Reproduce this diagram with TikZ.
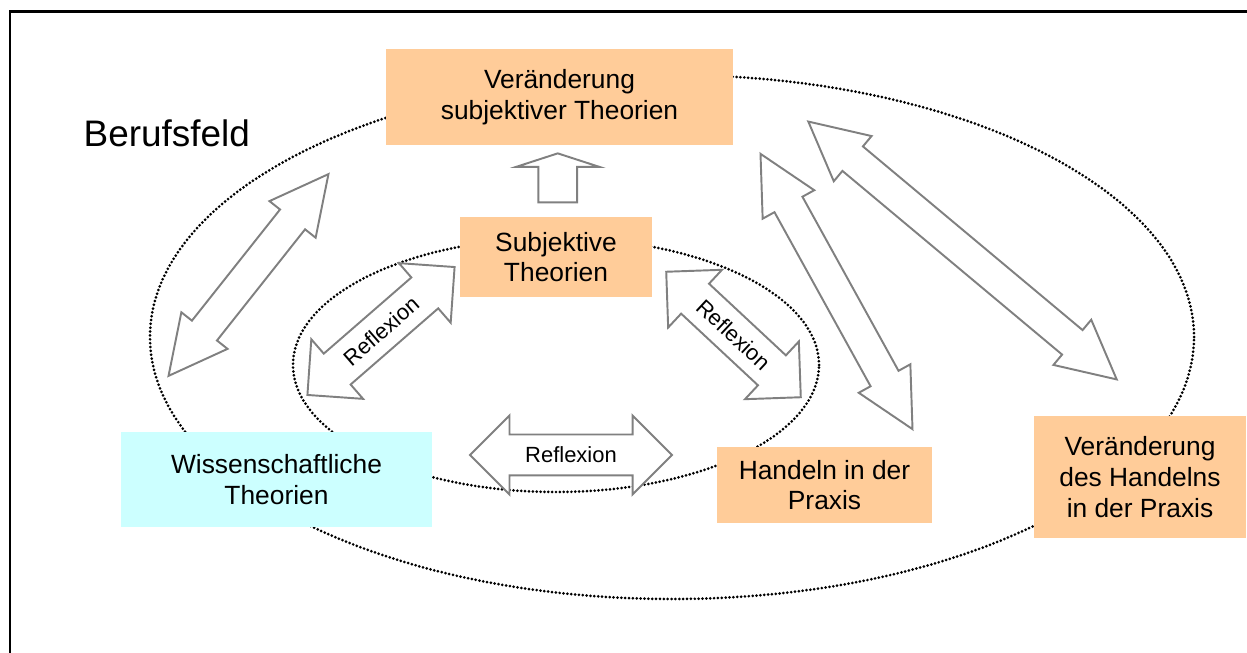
\documentclass[tikz,border=0pt]{standalone}
\usepackage{fontspec}
\setmainfont{Liberation Sans}
\usetikzlibrary{shapes.arrows,calc}

\definecolor{peach}{RGB}{255,204,153}
\definecolor{paleblue}{RGB}{204,255,255}
\definecolor{arrowgray}{RGB}{128,128,128}

\tikzset{
	box/.style={fill=peach, align=center, inner sep=0pt, font=\fontsize{15}{17.5}\selectfont},
	field/.style={black, line width=1.7pt, dash pattern=on 0pt off 2.2pt, line cap=round},
	blockarrow/.style={draw=arrowgray, fill=white, line width=1.1pt, inner xsep=0pt},
	bigarrow/.style={blockarrow, double arrow, inner ysep=0.3cm, double arrow head extend=0.27cm, double arrow tip angle=54},
	reflarrow/.style={blockarrow, double arrow, inner ysep=0pt, text height=0.548cm, text depth=0.232cm, double arrow head extend=0.38cm, double arrow tip angle=90, font=\fontsize{12.5}{15}\selectfont}
}

\begin{document}
\begin{tikzpicture}
	\useasboundingbox (0,0) rectangle (24.94,-13.06);
	\draw[line width=1.5pt] (0.2,-13.6) -- (0.2,-0.226) -- (25.6,-0.226);

	% Berufsfeld und Reflexionsraum
	\draw[field] (13.44,-6.74) ellipse (10.44 and 5.24);
	\draw[field] (11.12,-7.3) ellipse (5.26 and 2.54);
	\node[anchor=base west, inner sep=0pt, font=\fontsize{21}{25}\selectfont] (berufsfeld) at (1.667,-2.933) {Berufsfeld};

	% Wechselwirkungen
	\node[bigarrow, minimum height=5.15cm, rotate=51.6] (wiss-vst) at (4.97,-5.5) {};
	\node[bigarrow, minimum height=6.29cm, rotate=-61.1] (vst-praxis) at (16.73,-5.83) {};
	\node[bigarrow, minimum height=8.04cm, rotate=-39.9] (vst-vhp) at (19.25,-5.01) {};
	\node[reflarrow, minimum height=3.9cm, rotate=41] (refl-ws) at (7.62,-6.62) {Reflexion};
	\node[reflarrow, minimum height=3.68cm, rotate=-43] (refl-sp) at (14.67,-6.69) {Reflexion};
	\node[reflarrow, minimum height=4.04cm] (refl-wp) at (11.42,-9.1) {Reflexion};

	% Theorien und Praxis
	\node[box, minimum width=6.94cm, minimum height=1.92cm] (vst) at (11.19,-1.94) {Veränderung\\subjektiver Theorien};
	\node[box, minimum width=3.84cm, minimum height=1.6cm] (subj) at (11.12,-5.14) {Subjektive\\Theorien};
	\node[box, fill=paleblue, minimum width=6.22cm, minimum height=1.9cm] (wiss) at (5.53,-9.59) {Wissenschaftliche\\Theorien};
	\node[box, minimum width=4.3cm, minimum height=1.52cm] (praxis) at (16.49,-9.7) {Handeln in der\\Praxis};
	\node[box, minimum width=4.24cm, minimum height=2.44cm] (vhp) at (22.8,-9.54) {Veränderung\\des Handelns\\in der Praxis};

	\node[blockarrow, single arrow, inner ysep=0.367cm, single arrow head extend=0.45cm, single arrow tip angle=144, minimum height=0.98cm, rotate=90] (subj-vst) at ($(subj.north)!0.5!(vst.south)$) {};
\end{tikzpicture}
\end{document}
